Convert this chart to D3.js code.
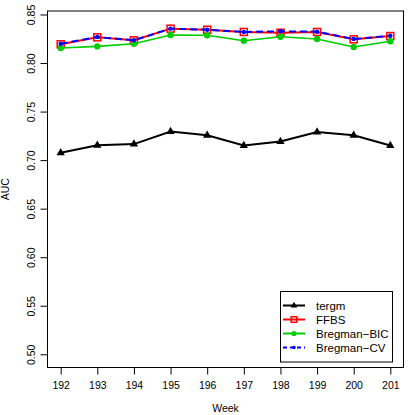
<!DOCTYPE html>
<html>
<head>
<meta charset="utf-8">
<style>
  body { margin: 0; background: #fff; }
  svg { display: block; font-family: "Liberation Sans", Arial, sans-serif; }
</style>
</head>
<body>
<div id="chart"></div>
<script src="https://d3js.org/d3.v7.min.js"></script>
<script>
// data
var weeks = [192, 193, 194, 195, 196, 197, 198, 199, 200, 201]
var yTicks = [0.50, 0.55, 0.60, 0.65, 0.70, 0.75, 0.80, 0.85]
var tergm = [0.7076, 0.7152, 0.7165, 0.7294, 0.7256, 0.7150, 0.7191, 0.7289, 0.7256, 0.7150]
var ffbs = [0.8193, 0.8265, 0.8234, 0.8354, 0.8343, 0.8320, 0.8312, 0.8320, 0.8244, 0.8278]
var bregBIC = [0.8155, 0.8172, 0.8198, 0.8289, 0.8286, 0.8230, 0.8271, 0.8247, 0.8165, 0.8224]
var bregCV = [0.8199, 0.8268, 0.8234, 0.8354, 0.8343, 0.8320, 0.8327, 0.8323, 0.8247, 0.8281]

var series = [
  { name: "tergm", values: tergm, color: "#000000", shape: "tri", dash: null },
  { name: "FFBS", values: ffbs, color: "#ff0000", shape: "square", dash: null },
  { name: "Bregman\u2212BIC", values: bregBIC, color: "#00cd00", shape: "circle", dash: null },
  { name: "Bregman\u2212CV", values: bregCV, color: "#0000ff", shape: "dot", dash: "7,4" }
]

var width = 415, height = 415
var plotL = 47.5, plotR = 403.5, plotT = 11, plotB = 367.5

// R style 4% padding round the limits
var x = d3.scaleLinear().domain([191.64, 201.36]).range([plotL, plotR])
var y = d3.scaleLinear().domain([0.4864, 0.8536]).range([plotB, plotT])

var svg = d3.select("#chart").append("svg")
  .attr("width", width)
  .attr("height", height)

svg.append("rect")
  .attr("x", plotL).attr("y", plotT)
  .attr("width", plotR - plotL).attr("height", plotB - plotT)
  .attr("fill", "none").attr("stroke", "#000").attr("stroke-width", 1)

// x axis
var xAxis = svg.append("g")
  .attr("transform", "translate(0," + plotB + ")")
  .call(d3.axisBottom(x).tickValues(weeks).tickSize(7).tickPadding(7).tickFormat(d3.format("d")))
xAxis.select(".domain").remove()
xAxis.selectAll("text").attr("font-size", 10.5).attr("fill", "#000").style("font-family", "Liberation Sans, Arial, sans-serif")

// y axis, labels turned like R's las=0
var yAxis = svg.append("g")
  .attr("transform", "translate(" + plotL + ",0)")
  .call(d3.axisLeft(y).tickValues(yTicks).tickSize(7).tickFormat(d3.format(".2f")))
yAxis.select(".domain").remove()
yAxis.selectAll("text")
  .attr("font-size", 10.5).attr("fill", "#000")
  .style("font-family", "Liberation Sans, Arial, sans-serif")
  .attr("x", null).attr("dy", null)
  .attr("text-anchor", "middle")
  .attr("transform", "translate(-13,0) rotate(-90)")

svg.append("text")
  .attr("x", (plotL + plotR) / 2).attr("y", 412)
  .attr("text-anchor", "middle").attr("font-size", 10.5)
  .text("Week")

svg.append("text")
  .attr("transform", "translate(9," + (plotT + plotB) / 2 + ") rotate(-90)")
  .attr("text-anchor", "middle").attr("font-size", 10.5)
  .text("AUC")

// k scales the marker: 1 in the plot, smaller in the legend
function marker(g, shape, color, k) {
  if (shape == "tri") {
    g.append("path").attr("d", d3.symbol().type(d3.symbolTriangle).size(30 * k * k)).attr("fill", color)
  } else if (shape == "square") {
    var h = 3.5 * k
    g.append("rect").attr("x", -h).attr("y", -h).attr("width", 2 * h).attr("height", 2 * h)
      .attr("fill", "none").attr("stroke", color).attr("stroke-width", 1.5)
  } else if (shape == "circle") {
    g.append("circle").attr("r", 3.2 * k).attr("fill", color)
  } else {
    g.append("circle").attr("r", 2.2 * k).attr("fill", color)
  }
}

var line = d3.line()
  .x(function(d, i) { return x(weeks[i]) })
  .y(function(d) { return y(d) })

series.forEach(function(s) {
  svg.append("path")
    .datum(s.values)
    .attr("d", line)
    .attr("fill", "none")
    .attr("stroke", s.color)
    .attr("stroke-width", s.shape == "circle" ? 1.6 : 2)
    .attr("stroke-dasharray", s.dash)
  s.values.forEach(function(v, i) {
    var g = svg.append("g").attr("transform", "translate(" + x(weeks[i]) + "," + y(v) + ")")
    marker(g, s.shape, s.color, 1)
  })
})

// legend
var lg = svg.append("g")
lg.append("rect")
  .attr("x", 280.5).attr("y", 291.5).attr("width", 112).attr("height", 70.5)
  .attr("fill", "#fff").attr("stroke", "#000").attr("stroke-width", 1)
series.forEach(function(s, i) {
  var yy = 305.5 + i * 14
  lg.append("line")
    .attr("x1", 283).attr("x2", 305).attr("y1", yy).attr("y2", yy)
    .attr("stroke", s.color).attr("stroke-width", 2)
    .attr("stroke-dasharray", s.dash ? "4,3" : null)
  var g = lg.append("g").attr("transform", "translate(294," + yy + ")")
  marker(g, s.shape, s.color, 0.8)
  lg.append("text")
    .attr("x", 316).attr("y", yy).attr("dy", "0.36em")
    .attr("font-size", 11.5)
    .text(s.name)
})
</script>
</body>
</html>
